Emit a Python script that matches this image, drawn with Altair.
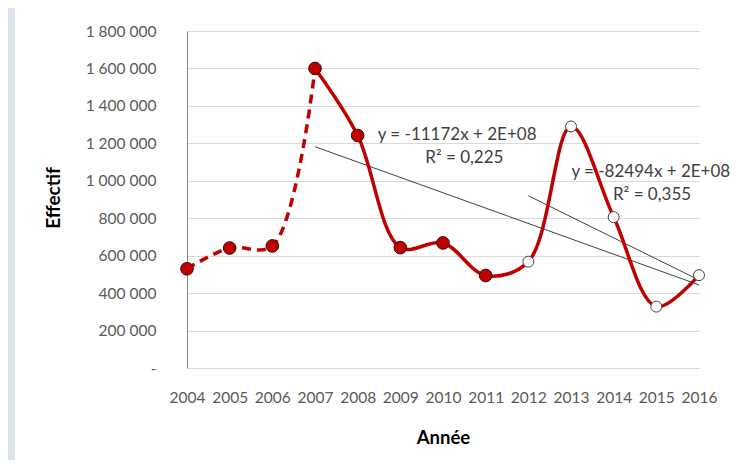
import altair as alt
import pandas as pd

years = [2004, 2005, 2006, 2007, 2008, 2009, 2010, 2011, 2012, 2013, 2014, 2015, 2016]
effectif = [530000, 641000, 652000, 1600000, 1242000, 643000, 668000, 494000,
            568000, 1290000, 806000, 328000, 496000]
last_filled_year = 2011   # filled markers up to here, open markers after
dashed_until = 2007       # dashed line up to here

trend1_years = [2007, 2016]
trend1_values = [1182000, 444000]
trend2_years = [2012, 2016]
trend2_values = [920000, 470000]

eq_texts = ["y = -11172x + 2E+08", "R² = 0,225", "y = -82494x + 2E+08", "R² = 0,355"]
eq_years = [2010.33, 2010.5, 2014.87, 2014.9]
eq_values = [1246000, 1123000, 1048000, 925000]

y_ticks = [0, 200000, 400000, 600000, 800000, 1000000, 1200000, 1400000, 1600000, 1800000]

FONT = "Lato"
RED = "#C00000"

df = pd.DataFrame({"year": years, "effectif": effectif})
t1 = pd.DataFrame({"year": trend1_years, "effectif": trend1_values})
t2 = pd.DataFrame({"year": trend2_years, "effectif": trend2_values})
eq = pd.DataFrame({"year": eq_years, "effectif": eq_values, "text": eq_texts})

W, H = 512, 337

xscale = alt.Scale(domain=[2004, 2016], nice=False, zero=False)
yscale = alt.Scale(domain=[0, 1800000], nice=False, zero=True)

x_axis = alt.Axis(values=years, format="d", grid=False, domain=False, ticks=False,
                  labelPadding=22, labelFontSize=15.5, labelColor="#595959", labelFont=FONT,
                  title="Année", titleFont=FONT, titleFontSize=18.5, titleFontWeight="bold",
                  titleColor="#000000", titleX=W / 2, titleY=69, titleBaseline="middle",
                  labelFlush=False, labelOverlap=False)
y_axis = alt.Axis(values=y_ticks, tickCount=10, grid=True, gridColor="#D9D9D9", domain=True,
                  domainColor="#868686", ticks=False, labelPadding=31, labelFontSize=15.5,
                  labelColor="#595959", labelFont=FONT, labelOverlap=False, labelFlush=False,
                  labelExpr="datum.value == 0 ? '-' : replace(format(datum.value, ','), /,/g, ' ')",
                  title="Effectif", titleFont=FONT, titleFontSize=19, titleFontWeight="bold",
                  titleColor="#000000", titleX=-134, titleY=H / 2 - 2, titleAngle=-90,
                  titleAlign="center", titleBaseline="middle")

X = alt.X("year:Q", scale=xscale, axis=x_axis)
Y = alt.Y("effectif:Q", scale=yscale, axis=y_axis)

base = alt.Chart(df)

dashed = base.transform_filter(f"datum.year <= {dashed_until}").mark_line(
    interpolate="catmull-rom", color=RED, strokeWidth=3.5, strokeDash=[9, 6]
).encode(x=X, y=Y)

solid = base.transform_filter(f"datum.year >= {dashed_until}").mark_line(
    interpolate="catmull-rom", color=RED, strokeWidth=3.5
).encode(x=X, y=Y)

tr1 = alt.Chart(t1).mark_line(color="#404040", strokeWidth=1).encode(x=X, y=Y)
tr2 = alt.Chart(t2).mark_line(color="#404040", strokeWidth=1).encode(x=X, y=Y)

filled_pts = base.transform_filter(f"datum.year <= {last_filled_year}").mark_point(
    filled=True, fill=RED, stroke="#3A0A0A", strokeWidth=1, opacity=1, size=160, shape="circle"
).encode(x=X, y=Y)

open_pts = base.transform_filter(f"datum.year > {last_filled_year}").mark_point(
    filled=True, fill="white", stroke="#404040", strokeWidth=1, opacity=1, size=120, shape="circle"
).encode(x=X, y=Y)

labels = alt.Chart(eq).mark_text(font=FONT, fontSize=17, color="#404040", align="center",
                                 baseline="middle").encode(x=X, y=Y, text="text:N")

frame = alt.Chart(pd.DataFrame({"a": [0]})).mark_rect(color="#DCE3ED").encode(
    x=alt.value(-179), x2=alt.value(-172), y=alt.value(-23), y2=alt.value(440))

chart = alt.layer(tr1, tr2, dashed, solid, filled_pts, open_pts, labels, frame).properties(
    width=W, height=H,
    autosize=alt.AutoSizeParams(type="none"),
    padding={"left": 179, "top": 23, "right": 37, "bottom": 92},
    background="white",
).configure_view(stroke=None)

chart.save("out.html", embed_options={"renderer": "svg", "actions": False})
